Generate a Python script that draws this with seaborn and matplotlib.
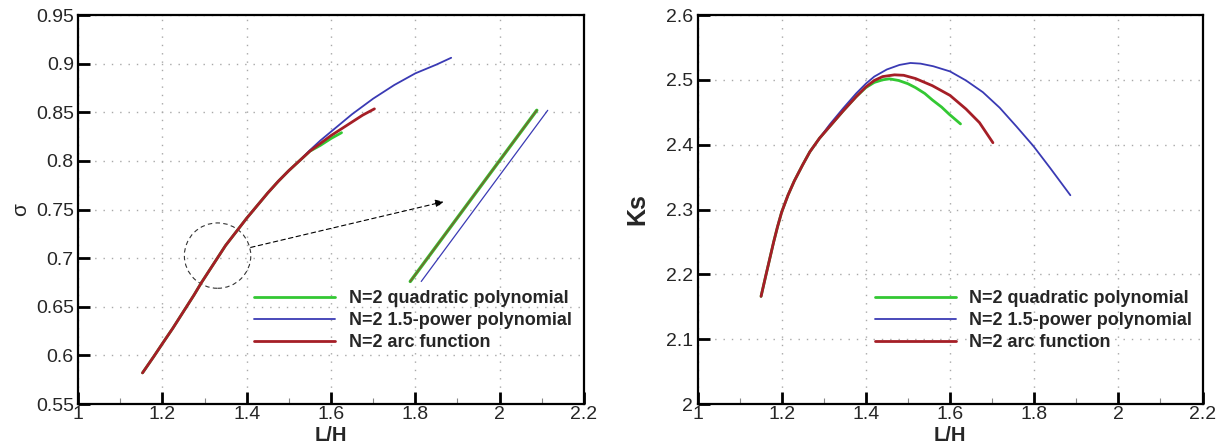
import matplotlib
matplotlib.use("Agg")
import matplotlib.pyplot as plt
from matplotlib.patches import Ellipse
import seaborn as sns
import pandas as pd

# ---------------- data ----------------
labels = ["N=2 quadratic polynomial", "N=2 1.5-power polynomial", "N=2 arc function"]
colors = ["#33c833", "#3a3ab4", "#a51e26"]
widths = [2.0, 1.3, 2.0]

# sigma vs L/H
sig_x_common = [1.153, 1.18, 1.20, 1.225, 1.25, 1.275, 1.293, 1.32, 1.35, 1.375, 1.40, 1.425, 1.45, 1.475, 1.50, 1.525, 1.55]
sig_y_common = [0.582, 0.599, 0.612, 0.628, 0.645, 0.662, 0.675, 0.693, 0.713, 0.727, 0.741, 0.754, 0.767, 0.779, 0.790, 0.800, 0.810]
sig_x_quad = sig_x_common + [1.575, 1.60, 1.625]
sig_y_quad = sig_y_common + [0.816, 0.823, 0.829]
sig_x_pow = sig_x_common + [1.575, 1.60, 1.625, 1.65, 1.675, 1.70, 1.725, 1.75, 1.775, 1.80, 1.825, 1.85, 1.885]
sig_y_pow = sig_y_common[:-1] + [0.811, 0.821, 0.830, 0.839, 0.848, 0.856, 0.864, 0.871, 0.878, 0.884, 0.890, 0.8945, 0.899, 0.906]
sig_x_arc = sig_x_common + [1.575, 1.60, 1.625, 1.65, 1.675, 1.703]
sig_y_arc = sig_y_common + [0.818, 0.826, 0.833, 0.840, 0.847, 0.8535]

# Ks vs L/H
ks_x_common = [1.151, 1.157, 1.163, 1.172, 1.181, 1.19, 1.20, 1.215, 1.23, 1.25, 1.267, 1.29]
ks_y_common = [2.166, 2.183, 2.200, 2.225, 2.250, 2.273, 2.296, 2.322, 2.344, 2.369, 2.389, 2.410]
ks_x_quad = ks_x_common + [1.314, 1.346, 1.377, 1.40, 1.42, 1.44, 1.456, 1.478, 1.50, 1.518, 1.54, 1.558, 1.58, 1.598, 1.625]
ks_y_quad = ks_y_common + [2.428, 2.452, 2.474, 2.488, 2.496, 2.500, 2.5015, 2.499, 2.494, 2.488, 2.479, 2.469, 2.458, 2.447, 2.432]
ks_x_pow = ks_x_common + [1.314, 1.346, 1.377, 1.40, 1.42, 1.45, 1.48, 1.506, 1.53, 1.56, 1.60, 1.638, 1.678, 1.718, 1.758, 1.798, 1.838, 1.886]
ks_y_pow = ks_y_common + [2.431, 2.456, 2.479, 2.494, 2.505, 2.516, 2.523, 2.526, 2.525, 2.521, 2.513, 2.499, 2.481, 2.457, 2.428, 2.398, 2.364, 2.322]
ks_x_arc = ks_x_common + [1.314, 1.346, 1.377, 1.40, 1.42, 1.44, 1.468, 1.49, 1.518, 1.558, 1.60, 1.638, 1.67, 1.702]
ks_y_arc = ks_y_common + [2.428, 2.452, 2.474, 2.489, 2.499, 2.505, 2.5077, 2.507, 2.502, 2.491, 2.476, 2.455, 2.434, 2.403]

# magnified-view lines
mag_x_qa = [1.788, 2.088]
mag_x_pow = [1.814, 2.114]
mag_y = [0.676, 0.852]

# ticks
sig_xticks = [1.0, 1.2, 1.4, 1.6, 1.8, 2.0, 2.2]
sig_xticklabels = ["1", "1.2", "1.4", "1.6", "1.8", "2", "2.2"]
sig_yticks = [0.55, 0.6, 0.65, 0.7, 0.75, 0.8, 0.85, 0.9, 0.95]
sig_yticklabels = ["0.55", "0.6", "0.65", "0.7", "0.75", "0.8", "0.85", "0.9", "0.95"]
ks_yticks = [2.0, 2.1, 2.2, 2.3, 2.4, 2.5, 2.6]
ks_yticklabels = ["2", "2.1", "2.2", "2.3", "2.4", "2.5", "2.6"]
minor_xticks = [1.1, 1.3, 1.5, 1.7, 1.9, 2.1]

# ---------------- style ----------------
sns.set_style("white")
plt.rcParams["font.family"] = ["Liberation Sans", "DejaVu Sans"]

fig = plt.figure(figsize=(12.2, 4.48), dpi=100)
W, H = 1220.0, 448.0
ax1 = fig.add_axes([78 / W, 44 / H, 506 / W, 389 / H])
ax2 = fig.add_axes([697.5 / W, 44 / H, 505 / W, 389 / H])


def style_axis(ax, yticks, yticklabels, ylim):
    ax.set_xlim(1.0, 2.2)
    ax.set_ylim(*ylim)
    ax.set_xticks(sig_xticks)
    ax.set_xticklabels(sig_xticklabels)
    ax.set_xticks(minor_xticks, minor=True)
    ax.set_yticks(yticks)
    ax.set_yticklabels(yticklabels)
    ax.tick_params(axis="both", which="major", direction="in", length=8.5, width=2,
                   labelsize=14, color="black", pad=3, bottom=True, left=True,
                   top=False, right=False)
    ax.tick_params(axis="x", which="major", pad=1.5)
    ax.tick_params(axis="x", which="minor", direction="in", length=4.5, width=0.8,
                   color="#888888", bottom=True, top=False)
    for s in ax.spines.values():
        s.set_linewidth(1.6)
        s.set_color("black")
    ax.grid(True, which="major", color="#a8a8a8", linestyle=(0, (1, 5)), linewidth=1.0)
    ax.set_axisbelow(True)
    ax.set_xlabel("L/H", fontsize=14.5, fontweight="bold", labelpad=2)


def draw(ax, xs, ys):
    for x, y, lab, c, w in zip(xs, ys, labels, colors, widths):
        df = pd.DataFrame({"x": x, "y": y})
        sns.lineplot(data=df, x="x", y="y", ax=ax, color=c, linewidth=w,
                     label=lab, sort=False, estimator=None)


# left panel
draw(ax1, [sig_x_quad, sig_x_pow, sig_x_arc], [sig_y_quad, sig_y_pow, sig_y_arc])
style_axis(ax1, sig_yticks, sig_yticklabels, (0.55, 0.95))
ax1.set_ylabel("σ", fontsize=15, labelpad=4)

# magnified-view lines
sns.lineplot(x=mag_x_qa, y=mag_y, ax=ax1, color=colors[0], linewidth=2.4, sort=False, estimator=None)
sns.lineplot(x=mag_x_qa, y=mag_y, ax=ax1, color=colors[2], linewidth=1.2, alpha=0.55, sort=False, estimator=None)
sns.lineplot(x=mag_x_pow, y=mag_y, ax=ax1, color=colors[1], linewidth=0.9, sort=False, estimator=None)

ax1.add_patch(Ellipse((1.331, 0.7026), 0.1575, 0.0672, fill=False, edgecolor="#333333",
                      linestyle=(0, (4, 3)), linewidth=0.8))
ax1.annotate("", xy=(1.867, 0.758), xytext=(1.4095, 0.711),
             arrowprops=dict(arrowstyle="-|>", linestyle=(0, (4, 3)), lw=0.8,
                             color="black", mutation_scale=12, shrinkA=0, shrinkB=0))

# right panel
draw(ax2, [ks_x_quad, ks_x_pow, ks_x_arc], [ks_y_quad, ks_y_pow, ks_y_arc])
style_axis(ax2, ks_yticks, ks_yticklabels, (2.0, 2.6))
ax2.set_ylabel("Ks", fontsize=18, fontweight="bold", labelpad=12)

for ax, anchor_x in ((ax1, (254 - 78.0) / 506), (ax2, (874.5 - 697.5) / 505)):
    leg = ax.legend(loc="upper left", bbox_to_anchor=(anchor_x, (404 - 290) / 389),
                    frameon=False, fontsize=13, handlelength=4.5, handletextpad=0.75,
                    labelspacing=0.28, borderpad=0, borderaxespad=0)
    for t in leg.get_texts():
        t.set_fontweight("bold")

fig.savefig("out.png", dpi=100)
